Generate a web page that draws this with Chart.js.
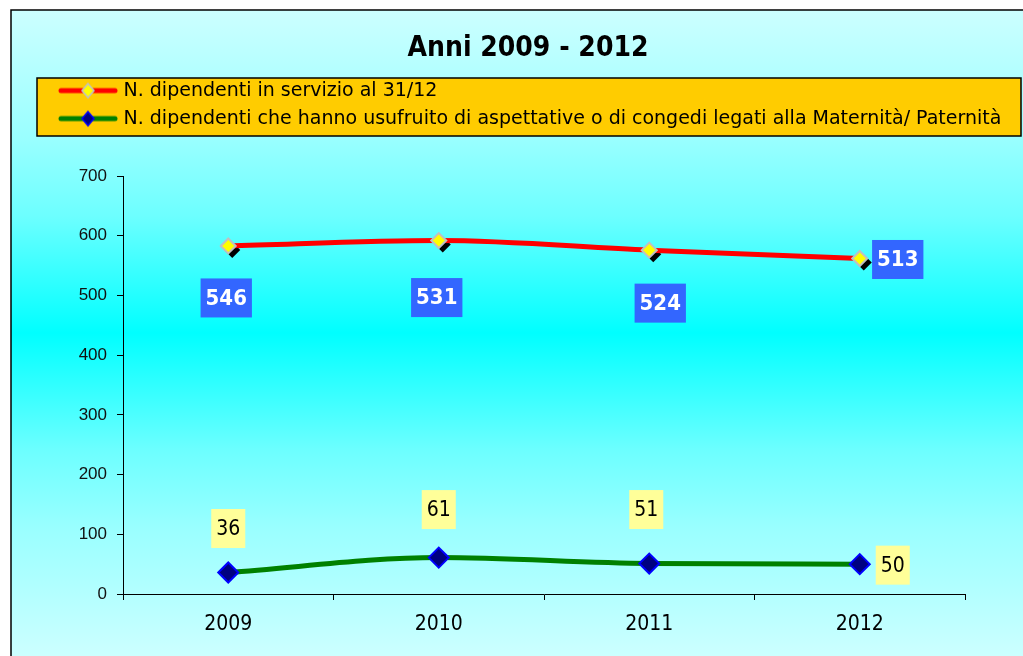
<!DOCTYPE html>
<html lang="it">
<head>
<meta charset="utf-8">
<title>Anni 2009 - 2012</title>
<script src="https://cdn.jsdelivr.net/npm/chart.js@4.4.1/dist/chart.umd.min.js"></script>
<style>
    html, body { margin: 0; padding: 0; background: #ffffff; }
    #contenitore { width: 1023px; height: 656px; }
</style>
</head>
<body>
<div id="contenitore"><canvas id="graficoDipendenti"></canvas></div>
<script>
// Dati
const anni = ['2009', '2010', '2011', '2012'];
// posizione dei punti della serie rossa come appare nel grafico
const dipendentiServizio = [583, 592, 576, 562];
// etichette riportate nei riquadri blu
const etichetteServizio = ['546', '531', '524', '513'];
const dipendentiCongedi = [36, 61, 51, 50];
const etichetteCongedi = ['36', '61', '51', '50'];
const valoriAsseY = [0, 100, 200, 300, 400, 500, 600, 700];

// Simbolo della legenda: linea con rombo al centro
function creaSimbolo(colLinea, colRiempimento, colBordo) {
    const c = document.createElement('canvas');
    c.width = 60;
    c.height = 18;
    const ctx = c.getContext('2d');
    ctx.strokeStyle = colLinea;
    ctx.lineWidth = 5;
    ctx.lineCap = 'round';
    ctx.beginPath();
    ctx.moveTo(3, 9);
    ctx.lineTo(57, 9);
    ctx.stroke();
    ctx.beginPath();
    ctx.moveTo(30, 2);
    ctx.lineTo(36, 9);
    ctx.lineTo(30, 16);
    ctx.lineTo(24, 9);
    ctx.closePath();
    ctx.fillStyle = colRiempimento;
    ctx.fill();
    ctx.lineWidth = 1.5;
    ctx.strokeStyle = colBordo;
    ctx.stroke();
    return c;
}

// Sfondo sfumato, cornice e riquadro della legenda
const pluginSfondo = {
    id: 'sfondo',
    beforeDraw(chart) {
        const ctx = chart.ctx;
        ctx.save();
        ctx.fillStyle = '#ffffff';
        ctx.fillRect(0, 0, chart.width, chart.height);
        const grad = ctx.createLinearGradient(0, 10, 0, chart.height);
        grad.addColorStop(0, '#CCFFFF');
        grad.addColorStop(0.2, '#99FFFF');
        grad.addColorStop(0.32, '#6CFFFF');
        grad.addColorStop(0.5, '#00FFFF');
        grad.addColorStop(0.68, '#6CFFFF');
        grad.addColorStop(0.8, '#99FFFF');
        grad.addColorStop(1, '#CCFFFF');
        ctx.fillStyle = grad;
        ctx.fillRect(11, 10, chart.width - 11, chart.height - 10);
        ctx.strokeStyle = '#000000';
        ctx.lineWidth = 1.5;
        ctx.beginPath();
        ctx.moveTo(11, chart.height);
        ctx.lineTo(11, 10);
        ctx.lineTo(chart.width, 10);
        ctx.stroke();
        // riquadro arancione della legenda
        ctx.fillStyle = '#FFCC00';
        ctx.fillRect(37, 78, 984, 58);
        ctx.lineWidth = 1.5;
        ctx.strokeRect(37, 78, 984, 58);
        ctx.restore();
    },
    // ombra nera dei rombi gialli
    beforeDatasetDraw(chart, args) {
        if (args.index !== 0) return;
        const ctx = chart.ctx;
        ctx.save();
        ctx.fillStyle = '#000000';
        args.meta.data.forEach(p => {
            const x = p.x + 4, y = p.y + 4, r = 8;
            ctx.beginPath();
            ctx.moveTo(x, y - r);
            ctx.lineTo(x + r, y);
            ctx.lineTo(x, y + r);
            ctx.lineTo(x - r, y);
            ctx.closePath();
            ctx.fill();
        });
        ctx.restore();
    }
};

// Etichette dei valori nei riquadri
const pluginEtichette = {
    id: 'etichette',
    afterDatasetsDraw(chart) {
        const ctx = chart.ctx;
        chart.data.datasets.forEach((ds, i) => {
            const meta = chart.getDatasetMeta(i);
            const et = ds.etichette;
            ctx.save();
            ctx.font = et.font;
            ctx.textAlign = 'center';
            ctx.textBaseline = 'middle';
            meta.data.forEach((p, j) => {
                const testo = et.testi[j];
                const w = ctx.measureText(testo).width + 10;
                const h = 39;
                const cx = p.x + et.spostamenti[j][0];
                const cy = p.y + et.spostamenti[j][1];
                ctx.fillStyle = et.sfondo;
                ctx.fillRect(cx - w / 2, cy - h / 2, w, h);
                ctx.fillStyle = et.colore;
                ctx.fillText(testo, cx, cy + 1);
            });
            ctx.restore();
        });
    }
};

document.addEventListener('DOMContentLoaded', function() {
    const simboli = [
        creaSimbolo('#FF0000', '#FFFF00', '#C0C0C0'),
        creaSimbolo('#008000', '#000080', '#0000FF')
    ];

    const grafico = new Chart(
        document.getElementById('graficoDipendenti'),
        {
            type: 'line',
            data: {
                labels: anni,
                datasets: [
                    {
                        label: 'N. dipendenti in servizio al 31/12',
                        data: dipendentiServizio,
                        borderColor: '#FF0000',
                        borderWidth: 5,
                        cubicInterpolationMode: 'monotone',
                        pointStyle: 'rectRot',
                        pointRadius: 7.5,
                        pointBackgroundColor: '#FFFF00',
                        pointBorderColor: '#C0C0C0',
                        pointBorderWidth: 2,
                        etichette: {
                            testi: etichetteServizio,
                            font: 'bold 22px "DejaVu Sans Condensed", "DejaVu Sans", sans-serif',
                            colore: '#FFFFFF',
                            sfondo: '#3366FF',
                            spostamenti: [[-2, 52], [-2, 57], [11, 53], [38, 1]]
                        }
                    },
                    {
                        label: 'N. dipendenti che hanno usufruito di aspettative o di congedi legati alla Maternità/ Paternità',
                        data: dipendentiCongedi,
                        borderColor: '#008000',
                        borderWidth: 5,
                        cubicInterpolationMode: 'monotone',
                        pointStyle: 'rectRot',
                        pointRadius: 10,
                        pointBackgroundColor: '#000080',
                        pointBorderColor: '#0000FF',
                        pointBorderWidth: 2,
                        etichette: {
                            testi: etichetteCongedi,
                            font: '21px "DejaVu Sans Condensed", "DejaVu Sans", sans-serif',
                            colore: '#000000',
                            sfondo: '#FFFF99',
                            spostamenti: [[0, -44], [0, -48], [-3, -54], [33, 1]]
                        }
                    }
                ]
            },
            options: {
                responsive: true,
                maintainAspectRatio: false,
                animation: false,
                layout: {
                    padding: { left: 53, right: 20, top: 0, bottom: 0 }
                },
                plugins: {
                    title: {
                        display: true,
                        text: 'Anni 2009 - 2012',
                        color: '#000000',
                        font: { family: '"DejaVu Sans Condensed", "DejaVu Sans", sans-serif', size: 28, weight: 'bold' },
                        padding: { top: 32, bottom: 6.5 }
                    },
                    legend: {
                        display: true,
                        position: 'top',
                        align: 'start',
                        labels: {
                            color: '#000000',
                            font: { family: '"DejaVu Sans", sans-serif', size: 19 },
                            padding: 9,
                            usePointStyle: true,
                            pointStyleWidth: 52,
                            generateLabels: function(chart) {
                                const voci = Chart.defaults.plugins.legend.labels.generateLabels(chart);
                                voci.forEach((v, i) => { v.pointStyle = simboli[i]; });
                                return voci;
                            }
                        }
                    },
                    tooltip: { enabled: false }
                },
                scales: {
                    x: {
                        offset: true,
                        grid: {
                            display: true,
                            offset: true,
                            drawOnChartArea: false,
                            drawTicks: true,
                            tickLength: 6,
                            color: '#000000'
                        },
                        border: { display: true, color: '#000000', width: 1 },
                        ticks: {
                            color: '#000000',
                            padding: 12,
                            font: { family: '"DejaVu Sans Condensed", "DejaVu Sans", sans-serif', size: 21 }
                        },
                        afterFit: function(scale) { scale.height = 62; }
                    },
                    xSopra: {
                        type: 'category',
                        position: 'top',
                        display: true,
                        grid: { display: false },
                        border: { display: false },
                        ticks: { display: false },
                        afterFit: function(scale) { scale.height = 38; }
                    },
                    y: {
                        min: valoriAsseY[0],
                        max: valoriAsseY[valoriAsseY.length - 1],
                        grid: {
                            display: true,
                            drawOnChartArea: false,
                            drawTicks: true,
                            tickLength: 6,
                            color: '#000000'
                        },
                        border: { display: true, color: '#000000', width: 1 },
                        ticks: {
                            stepSize: valoriAsseY[1] - valoriAsseY[0],
                            color: '#111111',
                            padding: 10,
                            font: { family: '"Liberation Sans", Arial, sans-serif', size: 17 }
                        },
                        afterFit: function(scale) { scale.width = 70; }
                    },
                    yDestra: {
                        type: 'linear',
                        position: 'right',
                        display: true,
                        grid: { display: false },
                        border: { display: false },
                        ticks: { display: false },
                        afterFit: function(scale) { scale.width = 38; }
                    }
                }
            },
            plugins: [pluginSfondo, pluginEtichette]
        }
    );
});
</script>
</body>
</html>
